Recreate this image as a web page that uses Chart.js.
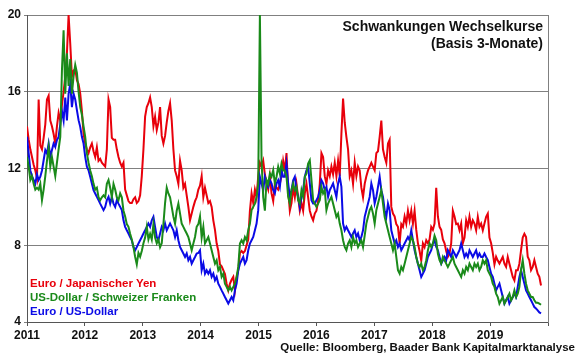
<!DOCTYPE html>
<html>
<head>
<meta charset="utf-8">
<script src="https://cdn.jsdelivr.net/npm/chart.js@4.4.0/dist/chart.umd.min.js"></script>
<style>
	html, body { margin: 0; padding: 0; background: #fff; }
	#wrap { position: relative; width: 580px; height: 359px; font-family: "Liberation Sans", Arial, sans-serif; font-weight: bold; }
	#chart { position: absolute; left: 0; top: 0; }
	.txt { position: absolute; white-space: nowrap; }
	#title { right: 37px; top: 18px; font-size: 14px; line-height: 17px; text-align: right; color: #111; }
	#legend { left: 30px; top: 276px; font-size: 11.5px; line-height: 14px; }
	#source { right: 5px; top: 341px; font-size: 11.5px; color: #111; }
</style>
</head>
<body>
<div id="wrap">
	<canvas id="chart" width="580" height="359"></canvas>
	<div class="txt" id="title">Schwankungen Wechselkurse<br>(Basis 3-Monate)</div>
	<div class="txt" id="legend">
		<div style="color:#e8000b">Euro / Japanischer Yen</div>
		<div style="color:#1a8a1a">US-Dollar / Schweizer Franken</div>
		<div style="color:#0a0ae6">Euro / US-Dollar</div>
	</div>
	<div class="txt" id="source">Quelle: Bloomberg, Baader Bank Kapitalmarktanalyse</div>
</div>
<script>
// sampling: first value at start of 2011, one value about every 10 days
const startYear = 2011;
const stepYears = 0.028736;

const seriesNames = ['Euro / Japanischer Yen', 'US-Dollar / Schweizer Franken', 'Euro / US-Dollar'];
const yTicks = [4, 8, 12, 16, 20];
const yearTicks = [2011, 2012, 2013, 2014, 2015, 2016, 2017, 2018, 2019, 2020];

const eurJpy = [
	// 2011 - mid 2012
	14.2, 13.5, 13.0, 12.6, 12.2, 11.9, 11.5, 15.6, 13.2, 13.0, 13.6, 14.3, 15.6, 15.8, 14.5, 14.2, 13.8,
	13.3, 14.2, 14.9, 14.5, 15.3, 16.0, 16.8, 18.0, 20.0, 18.5, 16.8, 17.1, 17.2, 16.6, 16.4, 15.9, 15.0,
	13.8, 13.3, 13.0, 12.8, 13.1, 13.3, 12.9, 12.6, 13.1, 12.4, 12.5, 12.3, 12.2, 12.1, 13.0, 15.6, 15.2,
	// mid 2012 - 2014
	13.6, 13.5, 13.5, 13.0, 12.6, 12.3, 12.1, 12.3, 10.9, 10.6, 10.3, 10.2, 10.2, 10.4, 10.5, 10.2, 10.3,
	10.6, 11.6, 13.0, 14.7, 15.2, 15.4, 15.7, 15.2, 14.2, 14.7, 14.0, 14.4, 15.2, 13.7, 13.3, 13.7, 14.4,
	15.0, 15.4, 14.5, 13.0, 11.9, 11.6, 11.2, 12.4, 11.9, 11.0, 11.2, 10.6, 10.0, 9.3, 9.65, 10.0, 10.3, 10.5,
	// 2014 - mid 2015
	10.9, 11.1, 11.6, 10.5, 11.0, 10.6, 10.2, 10.3, 10.0, 9.3, 8.8, 8.1, 7.7, 7.0, 6.9, 6.7, 6.5,
	6.0, 5.65, 6.0, 6.2, 6.35, 5.65, 6.35, 6.7, 7.6, 7.7, 7.6, 7.7, 8.0, 8.3, 9.8, 10.7, 10.2,
	10.9, 10.5, 11.6, 12.3, 12.1, 12.4, 11.7, 11.2, 10.9, 11.6, 10.7, 10.3, 11.2, 11.0, 10.9, 11.2, 11.6, 12.4,
	// mid 2015 - 2017
	11.9, 12.8, 10.9, 9.8, 10.2, 11.0, 10.5, 11.2, 10.5, 9.8, 10.2, 9.8, 10.7, 11.2, 10.5, 9.8, 9.5,
	9.3, 9.65, 9.8, 10.3, 11.2, 12.8, 12.6, 11.6, 11.2, 11.9, 11.6, 12.1, 11.7, 12.3, 11.6, 12.4, 11.6,
	13.8, 15.65, 14.4, 13.65, 13.0, 11.6, 11.9, 11.2, 12.3, 11.6, 12.1, 11.9, 11.0, 10.5, 11.2, 11.6, 11.9, 12.1,
	// 2017 - mid 2018
	12.3, 12.1, 11.9, 12.8, 12.9, 13.65, 14.5, 13.0, 12.6, 12.3, 13.3, 13.5, 10.0, 9.65, 9.5, 9.1, 8.96,
	8.1, 9.1, 8.96, 9.5, 9.13, 9.8, 9.3, 9.8, 9.13, 9.8, 8.8, 8.1, 7.7, 7.2, 8.1, 7.9, 8.26,
	8.1, 8.3, 8.96, 8.8, 9.13, 11.0, 9.5, 8.96, 8.8, 8.3, 8.1, 7.7, 7.4, 7.57, 8.1, 9.8, 9.5, 9.1,
	// mid 2018 - end 2019
	9.13, 8.78, 9.13, 8.1, 8.4, 9.3, 8.96, 9.5, 8.96, 9.3, 9.13, 8.78, 9.48, 8.96, 9.13, 8.78, 9.13,
	9.48, 9.65, 8.4, 8.1, 7.6, 7.0, 7.4, 7.2, 7.04, 7.22, 7.39, 7.04, 6.87, 7.39, 7.04, 6.7, 6.35,
	6.17, 6.7, 6.7, 7.04, 7.74, 8.4, 8.6, 8.43, 7.4, 7.22, 6.7, 6.87, 7.22, 6.87, 6.52, 6.35, 5.9
];

const usdChf = [
	12.6, 12.1, 11.4, 11.6, 11.2, 10.9, 11.0, 10.9, 11.2, 10.35, 10.9, 11.6, 12.4, 13.1, 12.1, 12.6, 12.1,
	11.6, 12.3, 13.0, 13.65, 17.1, 19.2, 15.9, 18.0, 16.3, 17.7, 15.9, 16.8, 17.4, 17.0, 16.0, 15.2, 14.8,
	14.2, 13.65, 12.8, 12.3, 11.9, 11.6, 11.2, 10.9, 11.0, 10.5, 10.35, 10.5, 10.6, 10.5, 11.2, 11.4, 11.0,
	10.5, 11.2, 10.9, 10.5, 10.35, 10.7, 10.5, 9.8, 9.5, 9.1, 8.96, 8.6, 8.3, 7.9, 7.4, 7.0, 7.6,
	7.4, 7.7, 8.1, 8.4, 8.96, 8.3, 8.6, 8.3, 9.1, 8.4, 8.1, 8.3, 7.9, 8.1, 9.1, 10.2, 11.0,
	10.7, 10.5, 10.0, 9.5, 9.13, 9.8, 10.17, 9.65, 9.13, 8.96, 8.78, 8.61, 8.43, 8.09, 7.74, 8.09, 8.43, 8.96,
	9.1, 9.5, 8.4, 8.96, 8.1, 8.26, 8.43, 8.09, 7.74, 7.39, 7.04, 7.22, 6.7, 6.87, 6.35, 6.52, 6.0,
	5.83, 5.65, 5.83, 5.65, 5.83, 6.0, 6.35, 6.87, 8.09, 8.26, 8.09, 8.43, 8.26, 8.78, 9.13, 9.83, 10.0,
	10.17, 10.52, 11.2, 20.0, 12.4, 10.5, 9.8, 11.4, 11.2, 11.74, 11.57, 11.91, 11.22, 11.57, 12.09, 11.74, 12.26, 11.9,
	11.9, 11.57, 10.52, 10.17, 10.87, 11.22, 10.87, 11.04, 10.35, 10.17, 10.87, 10.52, 11.57, 11.74, 12.26, 12.43, 11.39,
	10.35, 10.17, 10.0, 10.17, 10.35, 11.04, 10.7, 10.87, 9.83, 10.17, 10.35, 10.52, 10.17, 9.83, 9.48, 9.65, 9.13,
	8.78, 8.26, 7.91, 7.74, 8.09, 8.26, 7.91, 8.43, 8.09, 8.26, 7.91, 8.09, 8.26, 7.91, 8.5, 9.13, 9.48, 9.83,
	10.0, 9.65, 9.13, 9.83, 10.17, 10.52, 10.87, 10.17, 9.48, 9.13, 8.78, 8.43, 8.09, 7.74, 8.09, 7.39, 6.7,
	6.52, 6.87, 6.7, 7.04, 7.39, 7.74, 8.09, 8.43, 8.26, 7.91, 7.39, 7.04, 6.87, 7.04, 6.7, 6.87, 7.22,
	7.74, 8.09, 7.91, 8.09, 8.5, 8.26, 7.57, 7.22, 7.04, 7.39, 7.22, 7.04, 6.87, 7.04, 7.22, 7.39, 7.04, 6.87,
	6.7, 6.52, 6.35, 6.7, 6.52, 6.87, 6.7, 7.04, 6.87, 6.7, 7.04, 6.87, 7.04, 6.7, 6.87, 7.22, 7.04,
	7.22, 6.7, 6.52, 6.35, 6.0, 5.83, 5.48, 5.3, 4.96, 5.13, 5.3, 4.96, 5.13, 5.3, 5.48, 5.13, 5.3,
	5.65, 5.3, 5.48, 5.83, 6.7, 7.22, 6.52, 6.0, 5.65, 5.48, 5.3, 5.3, 5.13, 5.0, 5.0, 4.96, 4.9
];

const eurUsd = [
	13.65, 12.8, 11.9, 11.6, 11.4, 11.2, 11.7, 11.4, 11.57, 11.9, 12.43, 12.96, 12.78, 13.3, 12.61, 12.96, 13.3,
	13.13, 13.48, 13.65, 14.3, 15.0, 14.5, 15.7, 14.5, 15.9, 16.4, 15.2, 15.9, 15.6, 15.04, 14.52, 14.17, 13.65,
	13.3, 12.61, 12.09, 11.91, 11.57, 11.22, 10.87, 10.7, 10.52, 10.35, 10.17, 10.0, 9.83, 10.0, 10.35, 10.52, 10.17,
	10.52, 10.17, 10.0, 10.35, 10.17, 10.0, 9.83, 9.3, 8.96, 8.78, 8.61, 8.43, 8.26, 7.91, 7.74, 7.91, 8.09,
	8.26, 8.43, 8.61, 8.78, 8.96, 9.13, 8.96, 9.3, 9.48, 8.96, 8.43, 8.26, 8.61, 8.96, 8.78, 9.13, 8.78,
	8.96, 9.13, 8.96, 8.78, 8.43, 8.78, 8.26, 7.91, 7.74, 7.57, 7.39, 7.57, 7.22, 7.39, 7.04, 7.22, 7.39, 7.57,
	7.6, 7.74, 6.7, 7.04, 6.52, 6.7, 6.52, 6.7, 6.35, 6.52, 6.17, 6.35, 6.0, 5.83, 5.65, 5.48, 5.3,
	5.13, 4.96, 5.13, 5.3, 5.13, 5.65, 6.0, 6.7, 7.04, 7.22, 7.39, 7.04, 7.22, 7.74, 8.09, 8.26, 8.43,
	8.78, 9.13, 9.83, 11.57, 11.22, 10.87, 11.57, 11.22, 11.04, 11.39, 11.22, 10.87, 10.7, 11.22, 11.39, 11.04, 11.91, 11.57,
	11.57, 12.26, 11.22, 10.52, 10.87, 11.39, 11.57, 10.87, 10.52, 10.0, 10.52, 10.87, 11.57, 11.91, 12.09, 11.22, 10.35,
	10.17, 10.17, 10.35, 10.52, 10.87, 11.39, 11.22, 10.87, 11.04, 10.52, 10.87, 11.04, 11.22, 10.87, 10.52, 11.22, 11.57,
	11.04, 9.13, 8.78, 8.96, 8.78, 8.61, 8.43, 8.61, 8.78, 8.43, 8.61, 8.26, 8.43, 8.78, 9.48, 9.83, 10.17, 10.52,
	11.22, 10.87, 10.17, 10.52, 11.04, 11.57, 10.87, 10.52, 9.83, 9.48, 10.17, 9.83, 8.78, 8.43, 8.09, 8.26, 7.91,
	8.09, 7.74, 7.91, 8.09, 8.26, 8.43, 8.26, 8.78, 8.26, 7.74, 7.39, 7.04, 6.7, 6.35, 6.52, 6.7, 7.04,
	7.39, 7.57, 7.74, 8.09, 8.26, 7.91, 7.74, 7.39, 7.04, 7.22, 7.39, 7.22, 7.74, 7.57, 7.39, 7.74, 7.57, 7.39,
	7.57, 7.74, 8.09, 7.74, 7.39, 7.57, 7.39, 7.74, 7.57, 7.39, 7.57, 7.74, 7.39, 7.57, 7.39, 7.39, 7.57,
	7.39, 7.22, 6.87, 6.52, 6.35, 6.0, 5.65, 5.83, 6.0, 5.65, 5.3, 4.96, 5.13, 5.3, 4.96, 5.13, 5.3,
	5.48, 5.3, 5.83, 6.35, 6.7, 6.35, 6.0, 5.65, 5.48, 5.3, 5.13, 4.96, 4.78, 4.7, 4.61, 4.5, 4.45
];

const colors = ['#e8000b', '#1a8a1a', '#0a0ae6'];

function toPoints(values) {
	return values.map((v, i) => ({ x: startYear + i * stepYears, y: v }));
}

const fontTicks = { family: '"Liberation Sans", Arial, sans-serif', size: 12, weight: 'bold' };

const ctx = document.getElementById('chart');
new Chart(ctx, {
	type: 'line',
	data: {
		datasets: [
			// blue on bottom, green on top
			{ label: seriesNames[2], data: toPoints(eurUsd), borderColor: colors[2], order: 2 },
			{ label: seriesNames[0], data: toPoints(eurJpy), borderColor: colors[0], order: 3 },
			{ label: seriesNames[1], data: toPoints(usdChf), borderColor: colors[1], order: 1 },
		]
	},
	options: {
		responsive: false,
		animation: false,
		devicePixelRatio: 1,
		layout: { padding: { left: 0, right: 32, top: 15, bottom: 0 } },
		elements: {
			point: { radius: 0 },
			line: { borderWidth: 2, tension: 0 },
		},
		plugins: {
			legend: { display: false },
			tooltip: { enabled: false },
		},
		scales: {
			x: {
				type: 'linear',
				min: 2011,
				max: 2020,
				afterBuildTicks: (axis) => { axis.ticks = yearTicks.map(v => ({ value: v })); },
				afterFit: (axis) => { axis.height = 37; },
				ticks: {
					color: '#111',
					font: fontTicks,
					padding: 2,
					maxRotation: 0,
					autoSkip: false,
					callback: (v) => (v < 2020 ? String(v) : ''),
				},
				grid: { drawOnChartArea: false, drawTicks: true, tickLength: 4, color: '#555' },
				border: { color: '#555', width: 1 },
			},
			y: {
				min: 4,
				max: 20,
				afterBuildTicks: (axis) => { axis.ticks = yTicks.map(v => ({ value: v })); },
				afterFit: (axis) => { axis.width = 27; },
				ticks: { color: '#111', font: fontTicks, padding: 3 },
				grid: { color: '#808080', lineWidth: 1, tickLength: 3 },
				border: { color: '#555', width: 1 },
			},
			yRight: {
				position: 'right',
				min: 4,
				max: 20,
				afterFit: (axis) => { axis.width = 0; },
				ticks: { display: false },
				grid: { display: false },
				border: { color: '#808080', width: 1 },
			},
		},
	}
});
</script>
</body>
</html>
